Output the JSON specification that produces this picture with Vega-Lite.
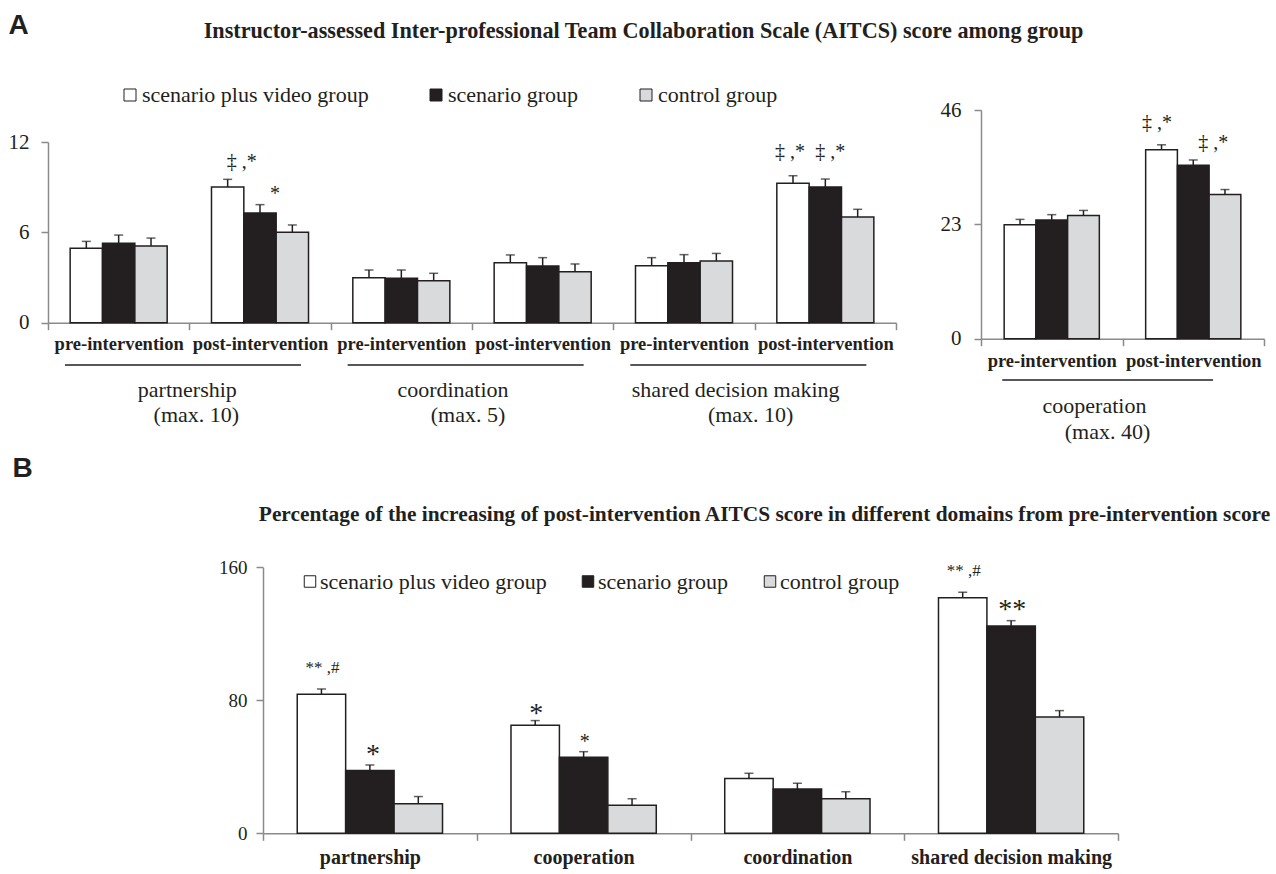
{
  "$schema": "https://vega.github.io/schema/vega-lite/v6.json",
  "width": 1276,
  "height": 874,
  "autosize": {"type": "none"},
  "padding": 0,
  "background": "#ffffff",
  "config": {
    "view": {"stroke": null},
    "axis": {"grid": false},
    "text": {"font": "Liberation Serif", "color": "#231f20", "fill": "#231f20"}
  },
  "datasets": {
    "aitcs": [
      {"cat": "partnership|pre-intervention", "group": "scenario plus video group", "mean": 4.94, "hi": 5.40},
      {"cat": "partnership|pre-intervention", "group": "scenario group", "mean": 5.27, "hi": 5.82},
      {"cat": "partnership|pre-intervention", "group": "control group", "mean": 5.09, "hi": 5.62},
      {"cat": "partnership|post-intervention", "group": "scenario plus video group", "mean": 9.01, "hi": 9.52},
      {"cat": "partnership|post-intervention", "group": "scenario group", "mean": 7.28, "hi": 7.84},
      {"cat": "partnership|post-intervention", "group": "control group", "mean": 6.00, "hi": 6.49},
      {"cat": "coordination|pre-intervention", "group": "scenario plus video group", "mean": 2.99, "hi": 3.50},
      {"cat": "coordination|pre-intervention", "group": "scenario group", "mean": 2.95, "hi": 3.50},
      {"cat": "coordination|pre-intervention", "group": "control group", "mean": 2.79, "hi": 3.28},
      {"cat": "coordination|post-intervention", "group": "scenario plus video group", "mean": 3.98, "hi": 4.50},
      {"cat": "coordination|post-intervention", "group": "scenario group", "mean": 3.76, "hi": 4.32},
      {"cat": "coordination|post-intervention", "group": "control group", "mean": 3.39, "hi": 3.90},
      {"cat": "shared decision making|pre-intervention", "group": "scenario plus video group", "mean": 3.79, "hi": 4.32},
      {"cat": "shared decision making|pre-intervention", "group": "scenario group", "mean": 3.98, "hi": 4.52},
      {"cat": "shared decision making|pre-intervention", "group": "control group", "mean": 4.10, "hi": 4.60},
      {"cat": "shared decision making|post-intervention", "group": "scenario plus video group", "mean": 9.26, "hi": 9.76},
      {"cat": "shared decision making|post-intervention", "group": "scenario group", "mean": 9.01, "hi": 9.54},
      {"cat": "shared decision making|post-intervention", "group": "control group", "mean": 7.02, "hi": 7.53}
    ],
    "coop": [
      {"cat": "cooperation|pre-intervention", "group": "scenario plus video group", "mean": 22.9, "hi": 24.0},
      {"cat": "cooperation|pre-intervention", "group": "scenario group", "mean": 23.9, "hi": 24.95},
      {"cat": "cooperation|pre-intervention", "group": "control group", "mean": 24.8, "hi": 25.8},
      {"cat": "cooperation|post-intervention", "group": "scenario plus video group", "mean": 38.0, "hi": 39.0},
      {"cat": "cooperation|post-intervention", "group": "scenario group", "mean": 34.9, "hi": 35.95},
      {"cat": "cooperation|post-intervention", "group": "control group", "mean": 29.0, "hi": 30.0}
    ],
    "pct": [
      {"cat": "partnership", "group": "scenario plus video group", "mean": 83.6, "hi": 86.8},
      {"cat": "partnership", "group": "scenario group", "mean": 37.7, "hi": 41.1},
      {"cat": "partnership", "group": "control group", "mean": 17.8, "hi": 22.1},
      {"cat": "cooperation", "group": "scenario plus video group", "mean": 65.0, "hi": 67.8},
      {"cat": "cooperation", "group": "scenario group", "mean": 45.7, "hi": 49.1},
      {"cat": "cooperation", "group": "control group", "mean": 16.8, "hi": 20.8},
      {"cat": "coordination", "group": "scenario plus video group", "mean": 32.9, "hi": 36.1},
      {"cat": "coordination", "group": "scenario group", "mean": 26.6, "hi": 30.1},
      {"cat": "coordination", "group": "control group", "mean": 20.8, "hi": 25.0},
      {"cat": "shared decision making", "group": "scenario plus video group", "mean": 141.7, "hi": 145.0},
      {"cat": "shared decision making", "group": "scenario group", "mean": 124.7, "hi": 127.9},
      {"cat": "shared decision making", "group": "control group", "mean": 70.0, "hi": 73.8}
    ],
    "domainsA": [
      {"start": "partnership|pre-intervention", "end": "partnership|post-intervention", "name": "partnership", "max": "(max. 10)"},
      {"start": "coordination|pre-intervention", "end": "coordination|post-intervention", "name": "coordination", "max": "(max. 5)"},
      {"start": "shared decision making|pre-intervention", "end": "shared decision making|post-intervention", "name": "shared decision making", "max": "(max. 10)"}
    ],
    "domainsC": [
      {"start": "cooperation|pre-intervention", "end": "cooperation|post-intervention", "name": "cooperation", "max": "(max. 40)"}
    ]
  },
  "resolve": {
    "scale": {"x": "independent", "y": "independent", "xOffset": "independent", "color": "independent"},
    "axis": {"x": "independent", "y": "independent"},
    "legend": {"color": "independent"}
  },
  "layer": [
    {
      "data": {"name": "aitcs"},
      "layer": [
        {
          "mark": {"type": "bar", "stroke": "#231f20", "strokeWidth": 1.5},
          "encoding": {
            "x": {
              "field": "cat", "type": "nominal", "sort": null,
              "scale": {
                "domain": ["partnership|pre-intervention", "partnership|post-intervention", "coordination|pre-intervention", "coordination|post-intervention", "shared decision making|pre-intervention", "shared decision making|post-intervention"],
                "range": [48, 896], "paddingInner": 0, "paddingOuter": 0
              },
              "axis": {
                "orient": "bottom", "offset": -551.3,
                "labelExpr": "slice(datum.label, indexof(datum.label, '|') + 1)",
                "labelFont": "Liberation Serif", "labelFontWeight": "bold", "labelFontSize": 18.5, "labelColor": "#231f20",
                "labelPadding": 5, "labelOverlap": false, "labelAngle": 0, "labelLimit": 400,
                "tickBand": "extent", "tickSize": 7, "tickWidth": 1.5, "tickColor": "#8a8a8a",
                "domainColor": "#8a8a8a", "domainWidth": 1.5,
                "title": "Instructor-assessed Inter-professional Team Collaboration Scale (AITCS) score among group",
                "titleX": 643, "titleY": -285.7, "titleAlign": "center", "titleBaseline": "alphabetic", "titleLimit": 2000,
                "titleFont": "Liberation Serif", "titleFontSize": 22.2, "titleFontWeight": "bold", "titleColor": "#231f20"
              }
            },
            "xOffset": {
              "field": "group", "type": "nominal", "sort": null,
              "scale": {"domain": ["scenario plus video group", "scenario group", "control group"], "paddingInner": 0, "paddingOuter": 0.685}
            },
            "y": {
              "field": "mean", "type": "quantitative",
              "scale": {"domain": [0, 12], "range": [322.7, 142], "nice": false, "zero": true},
              "axis": {
                "orient": "left", "offset": -48, "values": [0, 6, 12], "format": "d",
                "labelFont": "Liberation Serif", "labelFontSize": 21, "labelColor": "#231f20", "labelPadding": 12,
                "tickSize": 7, "tickWidth": 1.5, "tickColor": "#8a8a8a", "domainColor": "#8a8a8a", "domainWidth": 1.5,
                "title": "A", "titleAngle": 0, "titleX": -40, "titleY": 33, "titleAlign": "left", "titleBaseline": "alphabetic",
                "titleFont": "Liberation Sans", "titleFontSize": 28, "titleFontWeight": "bold", "titleColor": "#231f20"
              }
            },
            "color": {
              "field": "group", "type": "nominal", "sort": null,
              "scale": {"domain": ["scenario plus video group", "scenario group", "control group"], "range": ["#ffffff", "#231f20", "#d9dadb"]},
              "legend": {
                "orient": "none", "legendX": 119, "legendY": 84, "direction": "horizontal", "title": null, "padding": 0,
                "symbolType": "square", "symbolSize": 144, "symbolStrokeColor": "#231f20", "symbolStrokeWidth": 1, "symbolOpacity": 1,
                "labelFont": "Liberation Serif", "labelFontSize": 22, "labelColor": "#231f20", "labelOffset": 1, "labelLimit": 400, "columnPadding": 56
              }
            }
          }
        },
        {
          "mark": {"type": "rule", "color": "#231f20", "strokeWidth": 1.5},
          "encoding": {
            "x": {"field": "cat", "type": "nominal", "sort": null},
            "xOffset": {"field": "group", "type": "nominal", "sort": null},
            "y": {"field": "mean", "type": "quantitative"},
            "y2": {"field": "hi"}
          }
        },
        {
          "mark": {"type": "tick", "color": "#231f20", "thickness": 1.5, "size": 9},
          "encoding": {
            "x": {"field": "cat", "type": "nominal", "sort": null},
            "xOffset": {"field": "group", "type": "nominal", "sort": null},
            "y": {"field": "hi", "type": "quantitative"}
          }
        },
        {
          "transform": [{"filter": "datum.cat === 'partnership|post-intervention' && datum.group === 'scenario plus video group'"}],
          "mark": {"type": "text", "align": "left", "baseline": "alphabetic", "dx": -1, "dy": -11.7, "fontSize": 20, "font": "Liberation Serif", "color": "#231f20"},
          "encoding": {
            "x": {"field": "cat", "type": "nominal", "sort": null},
            "xOffset": {"field": "group", "type": "nominal", "sort": null},
            "y": {"field": "hi", "type": "quantitative"},
            "text": {"value": "‡ ,*"}
          }
        },
        {
          "transform": [{"filter": "datum.cat === 'partnership|post-intervention' && datum.group === 'scenario group'"}],
          "mark": {"type": "text", "align": "center", "baseline": "alphabetic", "dx": 15, "dy": -5, "fontSize": 20, "font": "Liberation Serif", "color": "#231f20"},
          "encoding": {
            "x": {"field": "cat", "type": "nominal", "sort": null},
            "xOffset": {"field": "group", "type": "nominal", "sort": null},
            "y": {"field": "hi", "type": "quantitative"},
            "text": {"value": "*"}
          }
        },
        {
          "transform": [{"filter": "datum.cat === 'shared decision making|post-intervention' && datum.group === 'scenario plus video group'"}],
          "mark": {"type": "text", "align": "left", "baseline": "alphabetic", "dx": -18, "dy": -18, "fontSize": 20, "font": "Liberation Serif", "color": "#231f20"},
          "encoding": {
            "x": {"field": "cat", "type": "nominal", "sort": null},
            "xOffset": {"field": "group", "type": "nominal", "sort": null},
            "y": {"field": "hi", "type": "quantitative"},
            "text": {"value": "‡ ,*"}
          }
        },
        {
          "transform": [{"filter": "datum.cat === 'shared decision making|post-intervention' && datum.group === 'scenario group'"}],
          "mark": {"type": "text", "align": "left", "baseline": "alphabetic", "dx": -10, "dy": -21, "fontSize": 20, "font": "Liberation Serif", "color": "#231f20"},
          "encoding": {
            "x": {"field": "cat", "type": "nominal", "sort": null},
            "xOffset": {"field": "group", "type": "nominal", "sort": null},
            "y": {"field": "hi", "type": "quantitative"},
            "text": {"value": "‡ ,*"}
          }
        },
        {
          "data": {"name": "domainsA"},
          "mark": {"type": "rule", "color": "#231f20", "strokeWidth": 1.5},
          "encoding": {
            "x": {"field": "start", "type": "nominal", "bandPosition": 0.12},
            "x2": {"field": "end", "bandPosition": 0.79},
            "y": {"datum": -2.81}
          }
        },
        {
          "data": {"name": "domainsA"},
          "transform": [{"filter": "datum.name === 'partnership'"}],
          "mark": {"type": "text", "align": "center", "baseline": "alphabetic", "dx": -2, "fontSize": 22, "font": "Liberation Serif", "color": "#231f20"},
          "encoding": {
            "x": {"field": "start", "type": "nominal", "bandPosition": 1},
            "y": {"datum": -4.93},
            "text": {"field": "name"}
          }
        },
        {
          "data": {"name": "domainsA"},
          "transform": [{"filter": "datum.name === 'partnership'"}],
          "mark": {"type": "text", "align": "center", "baseline": "alphabetic", "dx": 7, "fontSize": 22, "font": "Liberation Serif", "color": "#231f20"},
          "encoding": {
            "x": {"field": "start", "type": "nominal", "bandPosition": 1},
            "y": {"datum": -6.59},
            "text": {"field": "max"}
          }
        },
        {
          "data": {"name": "domainsA"},
          "transform": [{"filter": "datum.name !== 'partnership'"}],
          "mark": {"type": "text", "align": "center", "baseline": "alphabetic", "dx": -19, "fontSize": 22, "font": "Liberation Serif", "color": "#231f20"},
          "encoding": {
            "x": {"field": "start", "type": "nominal", "bandPosition": 1},
            "y": {"datum": -4.93},
            "text": {"field": "name"}
          }
        },
        {
          "data": {"name": "domainsA"},
          "transform": [{"filter": "datum.name !== 'partnership'"}],
          "mark": {"type": "text", "align": "center", "baseline": "alphabetic", "dx": -4, "fontSize": 22, "font": "Liberation Serif", "color": "#231f20"},
          "encoding": {
            "x": {"field": "start", "type": "nominal", "bandPosition": 1},
            "y": {"datum": -6.59},
            "text": {"field": "max"}
          }
        }
      ]
    },
    {
      "data": {"name": "coop"},
      "layer": [
        {
          "mark": {"type": "bar", "stroke": "#231f20", "strokeWidth": 1.5},
          "encoding": {
            "x": {
              "field": "cat", "type": "nominal", "sort": null,
              "scale": {"domain": ["cooperation|pre-intervention", "cooperation|post-intervention"], "range": [981, 1264], "paddingInner": 0, "paddingOuter": 0},
              "axis": {
                "orient": "bottom", "offset": -535.3,
                "labelExpr": "slice(datum.label, indexof(datum.label, '|') + 1)",
                "labelFont": "Liberation Serif", "labelFontWeight": "bold", "labelFontSize": 18.5, "labelColor": "#231f20",
                "labelPadding": 6, "labelOverlap": false, "labelAngle": 0, "labelLimit": 400,
                "tickBand": "extent", "tickSize": 7, "tickWidth": 1.5, "tickColor": "#8a8a8a",
                "domainColor": "#8a8a8a", "domainWidth": 1.5, "title": null
              }
            },
            "xOffset": {
              "field": "group", "type": "nominal", "sort": null,
              "scale": {"domain": ["scenario plus video group", "scenario group", "control group"], "paddingInner": 0, "paddingOuter": 0.73}
            },
            "y": {
              "field": "mean", "type": "quantitative",
              "scale": {"domain": [0, 46], "range": [338.7, 110], "nice": false, "zero": true},
              "axis": {
                "orient": "left", "offset": -981, "values": [0, 23, 46], "format": "d",
                "labelFont": "Liberation Serif", "labelFontSize": 21, "labelColor": "#231f20", "labelPadding": 13,
                "tickSize": 7, "tickWidth": 1.5, "tickColor": "#8a8a8a", "domainColor": "#8a8a8a", "domainWidth": 1.5,
                "title": null
              }
            },
            "color": {
              "field": "group", "type": "nominal", "sort": null,
              "scale": {"domain": ["scenario plus video group", "scenario group", "control group"], "range": ["#ffffff", "#231f20", "#d9dadb"]},
              "legend": null
            }
          }
        },
        {
          "mark": {"type": "rule", "color": "#231f20", "strokeWidth": 1.5},
          "encoding": {
            "x": {"field": "cat", "type": "nominal", "sort": null},
            "xOffset": {"field": "group", "type": "nominal", "sort": null},
            "y": {"field": "mean", "type": "quantitative"},
            "y2": {"field": "hi"}
          }
        },
        {
          "mark": {"type": "tick", "color": "#231f20", "thickness": 1.5, "size": 9},
          "encoding": {
            "x": {"field": "cat", "type": "nominal", "sort": null},
            "xOffset": {"field": "group", "type": "nominal", "sort": null},
            "y": {"field": "hi", "type": "quantitative"}
          }
        },
        {
          "transform": [{"filter": "datum.cat === 'cooperation|post-intervention' && datum.group === 'scenario plus video group'"}],
          "mark": {"type": "text", "align": "left", "baseline": "alphabetic", "dx": -19.5, "dy": -15.6, "fontSize": 20, "font": "Liberation Serif", "color": "#231f20"},
          "encoding": {
            "x": {"field": "cat", "type": "nominal", "sort": null},
            "xOffset": {"field": "group", "type": "nominal", "sort": null},
            "y": {"field": "hi", "type": "quantitative"},
            "text": {"value": "‡ ,*"}
          }
        },
        {
          "transform": [{"filter": "datum.cat === 'cooperation|post-intervention' && datum.group === 'scenario group'"}],
          "mark": {"type": "text", "align": "left", "baseline": "alphabetic", "dx": 5, "dy": -11, "fontSize": 20, "font": "Liberation Serif", "color": "#231f20"},
          "encoding": {
            "x": {"field": "cat", "type": "nominal", "sort": null},
            "xOffset": {"field": "group", "type": "nominal", "sort": null},
            "y": {"field": "hi", "type": "quantitative"},
            "text": {"value": "‡ ,*"}
          }
        },
        {
          "data": {"name": "domainsC"},
          "mark": {"type": "rule", "color": "#231f20", "strokeWidth": 1.5},
          "encoding": {
            "x": {"field": "start", "type": "nominal", "bandPosition": 0.15},
            "x2": {"field": "end", "bandPosition": 0.64},
            "y": {"datum": -8.31}
          }
        },
        {
          "data": {"name": "domainsC"},
          "mark": {"type": "text", "align": "center", "baseline": "alphabetic", "dx": -28, "fontSize": 22, "font": "Liberation Serif", "color": "#231f20"},
          "encoding": {
            "x": {"field": "start", "type": "nominal", "bandPosition": 1},
            "y": {"datum": -14.94},
            "text": {"field": "name"}
          }
        },
        {
          "data": {"name": "domainsC"},
          "mark": {"type": "text", "align": "center", "baseline": "alphabetic", "dx": -15, "fontSize": 22, "font": "Liberation Serif", "color": "#231f20"},
          "encoding": {
            "x": {"field": "start", "type": "nominal", "bandPosition": 1},
            "y": {"datum": -20.17},
            "text": {"field": "max"}
          }
        }
      ]
    },
    {
      "data": {"name": "pct"},
      "layer": [
        {
          "mark": {"type": "bar", "stroke": "#231f20", "strokeWidth": 1.5},
          "encoding": {
            "x": {
              "field": "cat", "type": "nominal", "sort": null,
              "scale": {"domain": ["partnership", "cooperation", "coordination", "shared decision making"], "range": [263, 1118], "paddingInner": 0, "paddingOuter": 0},
              "axis": {
                "orient": "bottom", "offset": -40.7,
                "labelFont": "Liberation Serif", "labelFontWeight": "bold", "labelFontSize": 20, "labelColor": "#231f20",
                "labelPadding": 7, "labelOverlap": false, "labelAngle": 0, "labelLimit": 400,
                "tickBand": "extent", "tickSize": 7, "tickWidth": 1.5, "tickColor": "#8a8a8a",
                "domainColor": "#8a8a8a", "domainWidth": 1.5,
                "title": "Percentage of the increasing of post-intervention AITCS score in different domains from pre-intervention score",
                "titleX": 764, "titleY": -313, "titleAlign": "center", "titleBaseline": "alphabetic", "titleLimit": 2000,
                "titleFont": "Liberation Serif", "titleFontSize": 21.4, "titleFontWeight": "bold", "titleColor": "#231f20"
              }
            },
            "xOffset": {
              "field": "group", "type": "nominal", "sort": null,
              "scale": {"domain": ["scenario plus video group", "scenario group", "control group"], "paddingInner": 0, "paddingOuter": 0.707}
            },
            "y": {
              "field": "mean", "type": "quantitative",
              "scale": {"domain": [0, 160], "range": [833.3, 567.3], "nice": false, "zero": true},
              "axis": {
                "orient": "left", "offset": -263, "values": [0, 80, 160], "format": "d",
                "labelFont": "Liberation Serif", "labelFontSize": 19, "labelColor": "#231f20", "labelPadding": 9,
                "tickSize": 7, "tickWidth": 1.5, "tickColor": "#8a8a8a", "domainColor": "#8a8a8a", "domainWidth": 1.5,
                "title": "B", "titleAngle": 0, "titleX": -251, "titleY": 476, "titleAlign": "left", "titleBaseline": "alphabetic",
                "titleFont": "Liberation Sans", "titleFontSize": 28, "titleFontWeight": "bold", "titleColor": "#231f20"
              }
            },
            "color": {
              "field": "group", "type": "nominal", "sort": null,
              "scale": {"domain": ["scenario plus video group", "scenario group", "control group"], "range": ["#ffffff", "#231f20", "#d9dadb"]},
              "legend": {
                "orient": "none", "legendX": 299, "legendY": 570.5, "direction": "horizontal", "title": null, "padding": 0,
                "symbolType": "square", "symbolSize": 132, "symbolStrokeColor": "#231f20", "symbolStrokeWidth": 1, "symbolOpacity": 1,
                "labelFont": "Liberation Serif", "labelFontSize": 22, "labelColor": "#231f20", "labelOffset": -1, "labelLimit": 400, "columnPadding": 30
              }
            }
          }
        },
        {
          "mark": {"type": "rule", "color": "#231f20", "strokeWidth": 1.5},
          "encoding": {
            "x": {"field": "cat", "type": "nominal", "sort": null},
            "xOffset": {"field": "group", "type": "nominal", "sort": null},
            "y": {"field": "mean", "type": "quantitative"},
            "y2": {"field": "hi"}
          }
        },
        {
          "mark": {"type": "tick", "color": "#231f20", "thickness": 1.5, "size": 9},
          "encoding": {
            "x": {"field": "cat", "type": "nominal", "sort": null},
            "xOffset": {"field": "group", "type": "nominal", "sort": null},
            "y": {"field": "hi", "type": "quantitative"}
          }
        },
        {
          "transform": [{"filter": "(datum.cat === 'partnership' || datum.cat === 'shared decision making') && datum.group === 'scenario plus video group'"}],
          "mark": {"type": "text", "align": "center", "baseline": "alphabetic", "dx": 1, "dy": -16, "fontSize": 17, "font": "Liberation Serif", "color": "#231f20"},
          "encoding": {
            "x": {"field": "cat", "type": "nominal", "sort": null},
            "xOffset": {"field": "group", "type": "nominal", "sort": null},
            "y": {"field": "hi", "type": "quantitative"},
            "text": {"value": "** ,#"}
          }
        },
        {
          "transform": [{"filter": "datum.cat === 'partnership' && datum.group === 'scenario group'"}],
          "mark": {"type": "text", "align": "center", "baseline": "alphabetic", "dx": 3, "dy": -2, "fontSize": 28, "font": "Liberation Serif", "color": "#231f20"},
          "encoding": {
            "x": {"field": "cat", "type": "nominal", "sort": null},
            "xOffset": {"field": "group", "type": "nominal", "sort": null},
            "y": {"field": "hi", "type": "quantitative"},
            "text": {"value": "*"}
          }
        },
        {
          "transform": [{"filter": "datum.cat === 'cooperation' && datum.group === 'scenario plus video group'"}],
          "mark": {"type": "text", "align": "center", "baseline": "alphabetic", "dx": 1, "dy": 1, "fontSize": 28, "font": "Liberation Serif", "color": "#231f20"},
          "encoding": {
            "x": {"field": "cat", "type": "nominal", "sort": null},
            "xOffset": {"field": "group", "type": "nominal", "sort": null},
            "y": {"field": "hi", "type": "quantitative"},
            "text": {"value": "*"}
          }
        },
        {
          "transform": [{"filter": "datum.cat === 'cooperation' && datum.group === 'scenario group'"}],
          "mark": {"type": "text", "align": "center", "baseline": "alphabetic", "dx": 1, "dy": -4, "fontSize": 20, "font": "Liberation Serif", "color": "#231f20"},
          "encoding": {
            "x": {"field": "cat", "type": "nominal", "sort": null},
            "xOffset": {"field": "group", "type": "nominal", "sort": null},
            "y": {"field": "hi", "type": "quantitative"},
            "text": {"value": "*"}
          }
        },
        {
          "transform": [{"filter": "datum.cat === 'shared decision making' && datum.group === 'scenario group'"}],
          "mark": {"type": "text", "align": "center", "baseline": "alphabetic", "dx": 1, "dy": -3, "fontSize": 28, "font": "Liberation Serif", "color": "#231f20"},
          "encoding": {
            "x": {"field": "cat", "type": "nominal", "sort": null},
            "xOffset": {"field": "group", "type": "nominal", "sort": null},
            "y": {"field": "hi", "type": "quantitative"},
            "text": {"value": "**"}
          }
        }
      ]
    }
  ]
}
